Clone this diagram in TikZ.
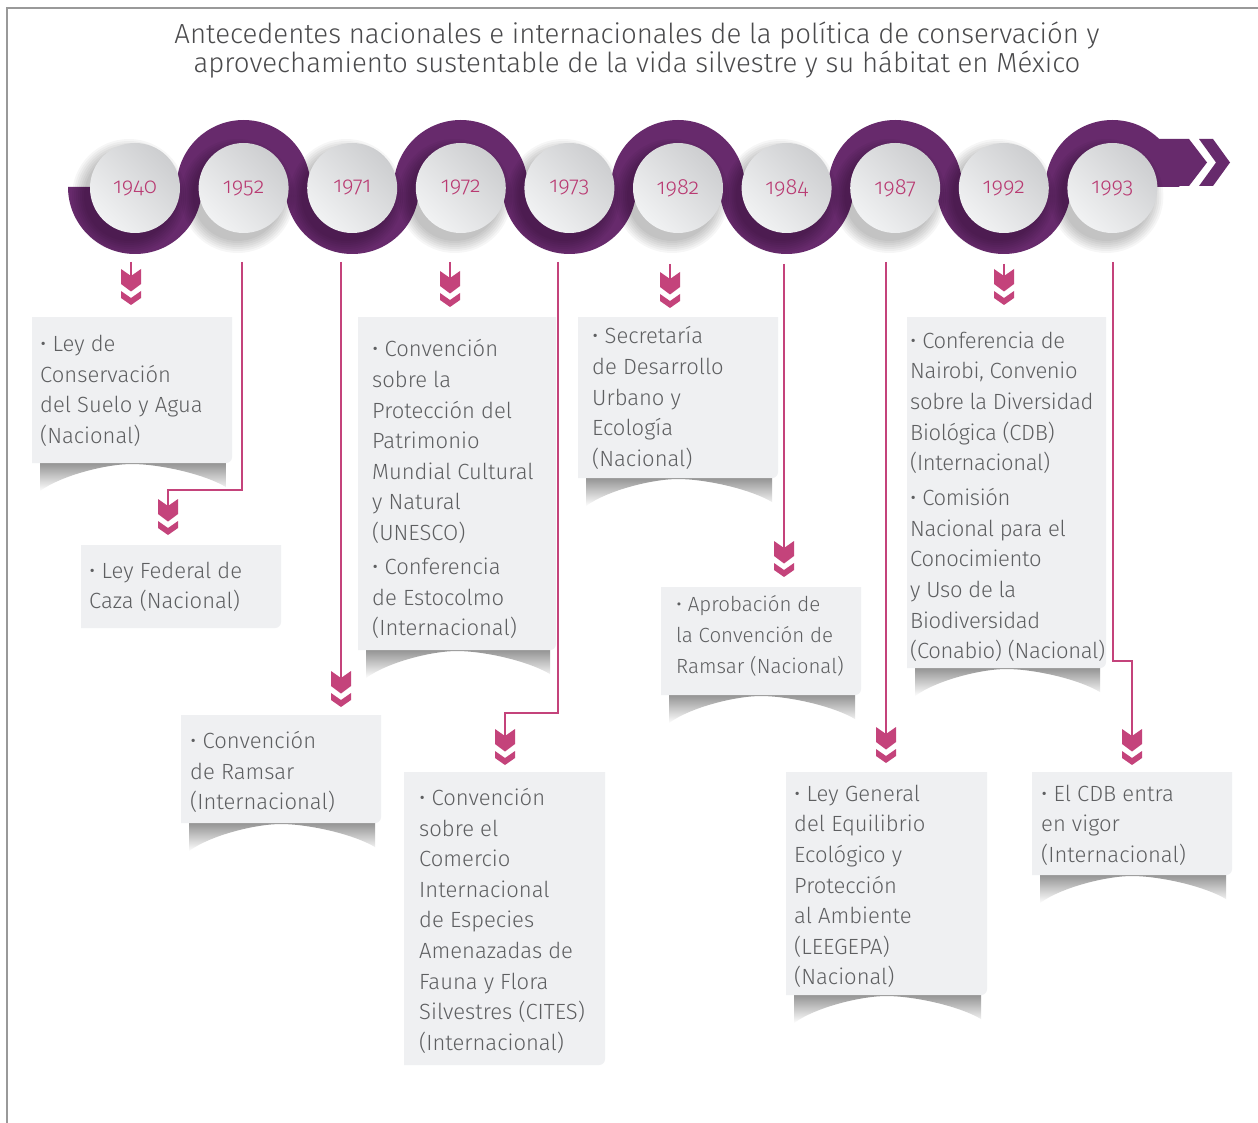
\documentclass[tikz,border=0pt]{standalone}
\usepackage{fontspec}
\setmainfont{Fira Sans Light}
\newfontfamily\yearfont{Fira Sans Light}[Numbers=OldStyle]
\usetikzlibrary{calc}
\definecolor{band}{HTML}{672A6C}
\definecolor{mag}{HTML}{C4437B}
\definecolor{yr}{HTML}{B93A72}
\definecolor{txt}{HTML}{5E5F61}
\definecolor{boxbg}{HTML}{EFF0F2}
\definecolor{ttl}{HTML}{4A4A4C}
\definecolor{discdark}{HTML}{CDCED0}
\definecolor{disclight}{HTML}{F1F2F3}
\newcommand\fl{\rule{0pt}{17pt}}
\tikzset{
  disc/.style={circle, minimum size=90pt, inner sep=0pt, top color=discdark, bottom color=disclight, shading angle=-45, text=yr, font=\yearfont\fontsize{22}{22}\selectfont},
  conn/.style={draw=mag, line width=2.2pt},
  boxgeo/.style={rectangle, inner sep=0pt, outer sep=0pt, draw=none},
  txtn/.style={align=left, inner sep=0pt, text=txt, anchor=north west, font=\fontsize{22}{30.6}\selectfont},
  titlen/.style={align=center, inner sep=0pt, text=ttl, font=\fontsize{27.6}{27}\selectfont},
  dchev/.pic={
    \fill[mag] (0,0) -- (10,7) -- (10,14) -- (0,7) -- (-10,14) -- (-10,7) -- cycle;
    \fill[mag] (0,13.5) -- (10,21) -- (10,36) -- (0,29) -- (-10,36) -- (-10,21) -- cycle;
  }
}
\newcommand\tlbox[6]{%
  \node[boxgeo, minimum width=#4pt, minimum height=#5pt, anchor=north west] (#1) at (#2,-#3) {};
  \ifnum#6=1
  \shade[top color=black!42, bottom color=white] ([xshift=8pt]#1.south west) -- ([xshift=-6pt]#1.south east) -- ([xshift=-6pt,yshift=-24pt]#1.south east) .. controls ([xshift=-30pt,yshift=-10pt]#1.south east) and ([xshift=25pt,yshift=-1pt]#1.south) .. ([yshift=-1pt]#1.south) .. controls ([xshift=-25pt,yshift=-1pt]#1.south) and ([xshift=30pt,yshift=-12pt]#1.south west) .. ([xshift=8pt,yshift=-28pt]#1.south west) -- cycle;
  \fi
  \fill[boxbg] (#1.north west) -- (#1.north east) -- ([yshift=6pt]#1.south east) arc[start angle=0,end angle=-90,radius=6pt] -- (#1.south west) -- cycle;
}
\begin{document}
\begin{tikzpicture}[x=1pt,y=1pt]
\fill[white] (0,0) rectangle (1258,-1123);
\useasboundingbox (0,0) rectangle (1258,-1123);
% frame
\draw[gray!80, line width=1.5pt] (7,-1123) -- (7,-8) -- (1258,-8);
% title
\node[titlen] (title) at (637,-50) {Antecedentes nacionales e internacionales de la política de conservación y\\aprovechamiento sustentable de la vida silvestre y su hábitat en México};
% band
\foreach \i in {0,...,9}{
  \pgfmathsetmacro\cx{135+108.6*\i}
  \ifodd\i
    \fill[band] (\cx-67,-187) arc[start angle=180,end angle=0,radius=67pt] -- (\cx+42,-187) arc[start angle=0,end angle=180,radius=42pt] -- cycle;
  \else
    \fill[band] (\cx-67,-187) arc[start angle=180,end angle=360,radius=67pt] -- (\cx+42,-187) arc[start angle=0,end angle=-180,radius=42pt] -- cycle;
  \fi
}
\fill[band] (1112.4,-139) -- (1189,-139) -- (1207,-162.5) -- (1189,-186) -- (1112.4,-186) -- cycle;
\fill[band] (1199,-139) -- (1213,-139) -- (1230,-162.5) -- (1213,-186) -- (1199,-186) -- (1216,-162.5) -- cycle;
% disc shadows
\foreach \i in {0,...,9}{
  \pgfmathsetmacro\cx{135+108.6*\i}
  \foreach \k in {0,...,6}{
    \fill[black, opacity=0.035] (\cx-6,-196) circle ({45+2*\k});
  }
}
% discs
\node[disc] (d1940) at (135,-188) {1940};
\node[disc] (d1952) at (243.6,-188) {1952};
\node[disc] (d1971) at (352.2,-188) {1971};
\node[disc] (d1972) at (460.8,-188) {1972};
\node[disc] (d1973) at (569.4,-188) {1973};
\node[disc] (d1982) at (678,-188) {1982};
\node[disc] (d1984) at (786.6,-188) {1984};
\node[disc] (d1987) at (895.2,-188) {1987};
\node[disc] (d1992) at (1003.8,-188) {1992};
\node[disc] (d1993) at (1112.4,-188) {1993};
% boxes
\tlbox{b1940}{32}{317}{200}{146}{1}
\tlbox{b1952}{81}{545}{200}{83}{0}
\tlbox{b1971}{181}{715}{200}{108}{1}
\tlbox{b1972}{358}{317}{198}{333}{1}
\tlbox{b1973}{404}{772}{201}{293}{0}
\tlbox{b1982}{578}{317}{200}{161}{1}
\tlbox{b1984}{661}{587}{200}{108}{1}
\tlbox{b1987}{786}{772}{201}{223}{1}
\tlbox{b1992}{907}{317}{199}{351}{1}
\tlbox{b1993}{1032}{772}{200}{103}{1}
% texts
\node[txtn] (t1940) at (40,-334.5) {\fl• Ley de\\Conservación\\del Suelo y Agua\\(Nacional)};
\node[txtn] (t1952) at (89,-561) {\fl• Ley Federal de\\Caza (Nacional)};
\node[txtn] (t1971) at (190,-731) {\fl• Convención\\de Ramsar\\(Internacional)};
\node[txtn] (t1972) at (372,-339.5) {\fl• Convención\\sobre la\\Protección del\\Patrimonio\\Mundial Cultural\\y Natural\\(UNESCO)\\[3.5pt]• Conferencia\\de Estocolmo\\(Internacional)};
\node[txtn] (t1973) at (419,-788) {\fl• Convención\\sobre el\\Comercio\\Internacional\\de Especies\\Amenazadas de\\Fauna y Flora\\Silvestres (CITES)\\(Internacional)};
\node[txtn] (t1982) at (592,-326.5) {\fl• Secretaría\\de Desarrollo\\Urbano y\\Ecología\\(Nacional)};
\node[txtn, font=\fontsize{20.5}{30.8}\selectfont] (t1984) at (676,-595.5) {\rule{0pt}{16pt}• Aprobación de\\la Convención de\\Ramsar (Nacional)};
\node[txtn] (t1987) at (794,-784) {\fl• Ley General\\del Equilibrio\\Ecológico y\\Protección\\al Ambiente\\(LEEGEPA)\\(Nacional)};
\node[txtn, font=\fontsize{22}{30.6}\selectfont\addfontfeature{LetterSpace=-1.5}] (t1992) at (910,-331) {\fl• Conferencia de\\Nairobi, Convenio\\sobre la Diversidad\\Biológica (CDB)\\(Internacional)\\[4.4pt]• Comisión\\Nacional para el\\Conocimiento\\y Uso de la\\Biodiversidad\\(Conabio) (Nacional)};
\node[txtn] (t1993) at (1041,-784) {\fl• El CDB entra\\en vigor\\(Internacional)};
% connector endpoints
\coordinate (s1940) at (131,-262);   \coordinate (a1940) at (131,-305);
\coordinate (s1952) at (242,-262);   \coordinate (a1952) at (168,-535);
\coordinate (s1971) at (341,-262);   \coordinate (a1971) at (341,-707);
\coordinate (s1972) at (450,-262);   \coordinate (a1972) at (450,-307);
\coordinate (s1973) at (558,-262);   \coordinate (a1973) at (505,-765);
\coordinate (s1982) at (670,-264);   \coordinate (a1982) at (670,-308);
\coordinate (s1984) at (784,-264);   \coordinate (a1984) at (784,-577);
\coordinate (s1987) at (886,-262);   \coordinate (a1987) at (886,-763);
\coordinate (s1992) at (1004,-264);  \coordinate (a1992) at (1004,-305);
\coordinate (s1993) at (1113,-262);  \coordinate (a1993) at (1132,-765);
% connectors
\draw[conn] (s1940) -- ([yshift=29pt]a1940);
\draw[conn] (s1952) |- ([yshift=45pt]a1952) -- ([yshift=29pt]a1952);
\draw[conn] (s1971) -- ([yshift=29pt]a1971);
\draw[conn] (s1972) -- ([yshift=29pt]a1972);
\draw[conn] (s1973) |- ([yshift=52pt]a1973) -- ([yshift=29pt]a1973);
\draw[conn] (s1982) -- ([yshift=29pt]a1982);
\draw[conn] (s1984) -- ([yshift=29pt]a1984);
\draw[conn] (s1987) -- ([yshift=29pt]a1987);
\draw[conn] (s1992) -- ([yshift=29pt]a1992);
\draw[conn] (s1993) |- ([yshift=104pt]a1993) -- ([yshift=29pt]a1993);
\foreach \n in {1940,1952,1971,1972,1973,1982,1984,1987,1992,1993}{
  \pic at (a\n) {dchev};
}
\end{tikzpicture}
\end{document}
